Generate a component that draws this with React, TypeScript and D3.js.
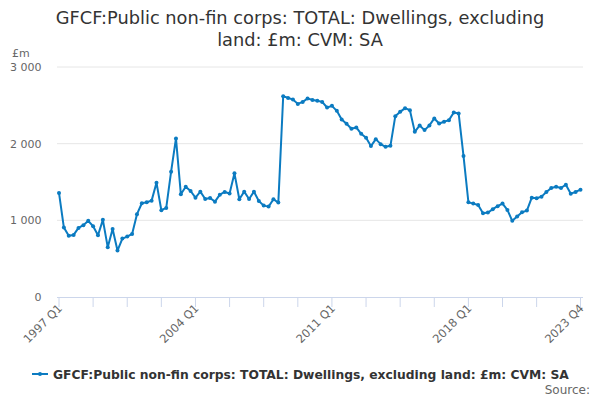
import React from "react";
import * as d3 from "d3";

// quarterly values, 1997 Q1 .. 2023 Q4 (£m, CVM, SA)
const startYear = 1997;
const values: number[] = [
  1357, 906, 798, 810, 901, 937, 993, 923, 806, 1006, 650, 888, 606, 762, 788, 823,
  1080, 1223, 1236, 1257, 1491, 1132, 1162, 1634, 2069, 1340, 1439, 1383, 1296, 1374, 1279, 1292,
  1244, 1335, 1370, 1350, 1613, 1275, 1374, 1279, 1374, 1253, 1192, 1179, 1275, 1231, 2619, 2597,
  2576, 2519, 2545, 2589, 2571, 2560, 2545, 2472, 2493, 2428, 2316, 2259, 2194, 2212, 2129, 2077,
  1968, 2059, 1994, 1959, 1972, 2359, 2415, 2463, 2437, 2154, 2238, 2177, 2238, 2329, 2264, 2285,
  2307, 2407, 2394, 1838, 1236, 1218, 1201, 1093, 1101, 1145, 1184, 1218, 1136, 993, 1049, 1106,
  1127, 1296, 1288, 1309, 1370, 1422, 1439, 1422, 1465, 1348, 1370, 1400,
];
const quarters = values.map((_, i) => `${startYear + Math.floor(i / 4)} Q${(i % 4) + 1}`);
const yTicks = [0, 1000, 2000, 3000];
const labelQuarters = ["1997 Q1", "2004 Q1", "2011 Q1", "2018 Q1", "2023 Q4"];
const tickQuarters = quarters.filter((_, i) => i % 7 === 0 && i <= 98).concat(["2023 Q4"]);

const titleLines = ["GFCF:Public non-fin corps: TOTAL: Dwellings, excluding", "land: £m: CVM: SA"];
const seriesName = "GFCF:Public non-fin corps: TOTAL: Dwellings, excluding land: £m: CVM: SA";

const W = 600;
const H = 400;
const m = { top: 67, right: 17, bottom: 103, left: 57 };
const blue = "#0b7bc1";
const font = "'DejaVu Sans', sans-serif";

export default function App() {
  const x = d3
    .scalePoint<string>()
    .domain(quarters)
    .range([m.left + 2, W - m.right - 2.5]);
  const y = d3
    .scaleLinear()
    .domain([0, 3000])
    .range([H - m.bottom, m.top]);

  const line = d3
    .line<number>()
    .x((_, i) => x(quarters[i])!)
    .y(d => y(d));

  const fmt = (v: number) => d3.format(",")(v).replace(/,/g, " ");

  return (
    <div style={{ position: "absolute", left: 0, top: 0 }}>
      <svg width={W} height={H} style={{ fontFamily: font, background: "#fff", display: "block" }}>
        {titleLines.map((t, i) => (
          <text key={t} x={W / 2} y={24 + i * 22} textAnchor="middle" fontSize={17.8} fill="#333">
            {t}
          </text>
        ))}
        <text x={12} y={57} fontSize={11} fill="#666">£m</text>

        {yTicks.map(t => (
          <g key={t}>
            {t > 0 && (
              <line x1={m.left} x2={W - m.right} y1={y(t)} y2={y(t)} stroke="#e6e6e6" strokeWidth={1} />
            )}
            <text x={41.5} y={y(t) + 4} textAnchor="end" fontSize={11} fill="#666">
              {fmt(t)}
            </text>
          </g>
        ))}

        {/* x axis */}
        <line x1={m.left} x2={W - m.right} y1={y(0) + 0.5} y2={y(0) + 0.5} stroke="#ccd6eb" />
        {tickQuarters.map(q => (
          <line key={q} x1={x(q)!} x2={x(q)!} y1={y(0)} y2={y(0) + 10} stroke="#ccd6eb" />
        ))}
        {labelQuarters.map(q => (
          <text
            key={q}
            transform={`translate(${x(q)! + 4},${y(0) + 12}) rotate(-45)`}
            textAnchor="end"
            fontSize={11.5}
            fill="#666"
          >
            {q}
          </text>
        ))}

        <path d={line(values)!} fill="none" stroke={blue} strokeWidth={2} strokeLinejoin="round" />
        {values.map((v, i) => (
          <circle key={i} cx={x(quarters[i])!} cy={y(v)} r={2} fill={blue} />
        ))}

        {/* legend */}
        <line x1={32} x2={48} y1={374} y2={374} stroke={blue} strokeWidth={2} />
        <circle cx={40} cy={374} r={2} fill={blue} />
        <text x={53} y={378.5} fontSize={12.3} fontWeight="bold" fill="#333">
          {seriesName}
        </text>
        <text x={590} y={394} textAnchor="end" fontSize={12} fill="#666">Source:</text>
      </svg>
    </div>
  );
}
